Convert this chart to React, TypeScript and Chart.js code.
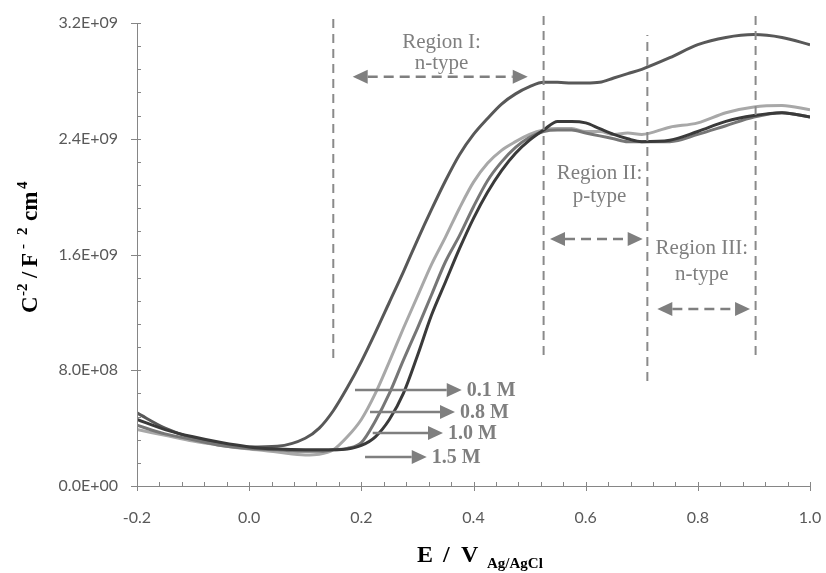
import React, { useEffect, useRef } from "react";
import { Chart, registerables } from "chart.js";

Chart.register(...registerables);

// ---------- data ----------
const potentials = [
  -0.2, -0.15, -0.1, -0.05, 0, 0.05, 0.1, 0.125, 0.15, 0.175, 0.2, 0.225, 0.25,
  0.275, 0.3, 0.325, 0.35, 0.375, 0.4, 0.425, 0.45, 0.475, 0.5, 0.525, 0.55,
  0.575, 0.6, 0.625, 0.65, 0.675, 0.7, 0.75, 0.8, 0.85, 0.9, 0.95, 1.0,
];
// values in units of 1e8 F^-2 cm^4
const conc01M = [
  5.05, 4.0, 3.3, 2.9, 2.7, 2.75, 3.3, 4.0, 5.2, 6.8, 8.6, 10.6, 12.7, 14.8,
  17.0, 19.1, 21.1, 22.9, 24.3, 25.4, 26.4, 27.1, 27.6, 27.9, 27.9, 27.85,
  27.85, 27.9, 28.2, 28.5, 28.8, 29.6, 30.5, 31.0, 31.2, 31.0, 30.5,
];
const conc08M = [
  3.9, 3.5, 3.1, 2.8, 2.55, 2.35, 2.15, 2.2, 2.5, 3.4, 4.6, 6.4, 8.6, 10.9,
  13.1, 15.3, 17.2, 19.2, 21.0, 22.3, 23.2, 23.8, 24.3, 24.6, 24.7, 24.7, 24.5,
  24.5, 24.3, 24.4, 24.3, 24.8, 25.1, 25.8, 26.2, 26.3, 26.0,
];
const conc10M = [
  4.2, 3.6, 3.2, 2.8, 2.6, 2.5, 2.4, 2.4, 2.5, 2.6, 3.0, 4.5, 6.4, 8.7, 10.9,
  13.2, 15.5, 17.3, 19.3, 21.1, 22.4, 23.4, 24.1, 24.5, 24.6, 24.6, 24.4, 24.2,
  24.0, 23.8, 23.8, 23.8, 24.3, 24.9, 25.5, 25.8, 25.5,
];
const conc15M = [
  4.6, 3.9, 3.4, 3.0, 2.7, 2.55, 2.5, 2.5, 2.5, 2.55, 2.8, 3.4, 4.6, 6.4, 9.0,
  11.8, 14.1, 16.4, 18.5, 20.3, 21.8, 23.0, 23.9, 24.6, 25.2, 25.2, 25.1, 24.7,
  24.3, 24.0, 23.8, 23.9, 24.5, 25.2, 25.6, 25.8, 25.5,
];
const seriesLabels = ["0.1 M", "0.8 M", "1.0 M", "1.5 M"];
const seriesColors = ["#585858", "#a8a8a8", "#767676", "#3a3a3a"];

// region dividers (dashed vertical lines)
const dividerX = [0.15, 0.525, 0.71, 0.903];
const dividerTop = [3.269e9, 3.29e9, 3.117e9, 3.29e9];
const dividerBottom = [8.85e8, 9.05e8, 7.26e8, 9.05e8];

// region annotations
const regionNames = ["Region I:", "Region II:", "Region III:"];
const regionTypes = ["n-type", "p-type", "n-type"];
const regionTextX = [0.343, 0.6247, 0.807];
const regionNameY = [3.062e9, 2.163e9, 1.645e9];
const regionTypeY = [2.917e9, 2.004e9, 1.465e9];
const regionArrowFrom = [0.1846, 0.5364, 0.7278];
const regionArrowTo = [0.4967, 0.7017, 0.8931];
const regionArrowY = [2.829e9, 1.707e9, 1.223e9];

// concentration pointers
const pointerFrom = [0.1887, 0.2155, 0.2203, 0.2066];
const pointerTo = [0.379, 0.367, 0.3456, 0.3166];
const pointerY = [6.63e8, 5.11e8, 3.66e8, 2.0e8];

// axes
const xMin = -0.2;
const xMax = 1.0;
const xStep = 0.2;
const xMinorStep = 0.04;
const yMin = 0;
const yMax = 3.2e9;
const yStep = 8e8;
const yMinorStep = 1.6e8;

// ---------- helpers ----------
function sciLabel(v: number): string {
  if (Math.abs(v) < 1) return "0.0E+00";
  const [m, e] = v.toExponential(1).split("e");
  const n = parseInt(e, 10);
  const exp = String(Math.abs(n)).padStart(2, "0");
  return m + "E" + (n < 0 ? "-" : "+") + exp;
}

const ANN_COLOR = "#7f7f7f";
const AXIS_COLOR = "#868686";

function drawArrow(
  ctx: CanvasRenderingContext2D,
  x1: number,
  x2: number,
  y: number,
  both: boolean,
  dashed: boolean
) {
  const hl = 15;
  const hw = 7;
  ctx.save();
  ctx.strokeStyle = ANN_COLOR;
  ctx.fillStyle = ANN_COLOR;
  ctx.lineWidth = 2.5;
  ctx.setLineDash(dashed ? [10, 6] : []);
  ctx.beginPath();
  ctx.moveTo(both ? x1 + hl : x1, y);
  ctx.lineTo(x2 - hl, y);
  ctx.stroke();
  ctx.setLineDash([]);
  ctx.beginPath();
  ctx.moveTo(x2, y);
  ctx.lineTo(x2 - hl, y - hw);
  ctx.lineTo(x2 - hl, y + hw);
  ctx.closePath();
  ctx.fill();
  if (both) {
    ctx.beginPath();
    ctx.moveTo(x1, y);
    ctx.lineTo(x1 + hl, y - hw);
    ctx.lineTo(x1 + hl, y + hw);
    ctx.closePath();
    ctx.fill();
  }
  ctx.restore();
}

const decorPlugin = {
  id: "decor",
  afterDatasetsDraw(chart: any) {
    const ctx: CanvasRenderingContext2D = chart.ctx;
    const xs = chart.scales.x;
    const ys = chart.scales.y;
    ctx.save();
    // region arrows and texts
    ctx.fillStyle = ANN_COLOR;
    ctx.textAlign = "center";
    ctx.textBaseline = "middle";
    ctx.font = '21px "Liberation Serif"';
    for (let i = 0; i < regionNames.length; i++) {
      const tx = xs.getPixelForValue(regionTextX[i]);
      ctx.fillText(regionNames[i], tx, ys.getPixelForValue(regionNameY[i]));
      ctx.fillText(regionTypes[i], tx, ys.getPixelForValue(regionTypeY[i]));
      drawArrow(
        ctx,
        xs.getPixelForValue(regionArrowFrom[i]),
        xs.getPixelForValue(regionArrowTo[i]),
        ys.getPixelForValue(regionArrowY[i]),
        true,
        true
      );
    }
    // concentration pointers
    ctx.font = 'bold 20px "Liberation Serif"';
    ctx.textAlign = "left";
    ctx.fillStyle = ANN_COLOR;
    for (let i = 0; i < seriesLabels.length; i++) {
      const x2 = xs.getPixelForValue(pointerTo[i]);
      const y = ys.getPixelForValue(pointerY[i]);
      drawArrow(ctx, xs.getPixelForValue(pointerFrom[i]), x2, y, false, false);
      ctx.fillText(seriesLabels[i], x2 + 5, y + 1);
    }
    ctx.restore();
  },
  afterDraw(chart: any) {
    const ctx: CanvasRenderingContext2D = chart.ctx;
    const xs = chart.scales.x;
    const ys = chart.scales.y;
    const area = chart.chartArea;
    ctx.save();
    ctx.strokeStyle = AXIS_COLOR;
    ctx.lineWidth = 1;
    // axis lines
    ctx.beginPath();
    ctx.moveTo(area.left + 0.5, area.top);
    ctx.lineTo(area.left + 0.5, area.bottom + 0.5);
    ctx.lineTo(area.right, area.bottom + 0.5);
    ctx.stroke();
    // x ticks
    const nX = Math.round((xMax - xMin) / xMinorStep);
    const perMajorX = Math.round(xStep / xMinorStep);
    for (let i = 0; i <= nX; i++) {
      const px = Math.round(xs.getPixelForValue(xMin + i * xMinorStep)) + 0.5;
      const major = i % perMajorX === 0;
      ctx.beginPath();
      ctx.moveTo(px, area.bottom - 4);
      ctx.lineTo(px, area.bottom + (major ? 5 : 0.5));
      ctx.stroke();
    }
    // y ticks
    const nY = Math.round((yMax - yMin) / yMinorStep);
    const perMajorY = Math.round(yStep / yMinorStep);
    for (let i = 0; i <= nY; i++) {
      const py = Math.round(ys.getPixelForValue(yMin + i * yMinorStep)) + 0.5;
      const major = i % perMajorY === 0;
      ctx.beginPath();
      ctx.moveTo(area.left - (major ? 6 : 0), py);
      ctx.lineTo(area.left + 4, py);
      ctx.stroke();
    }
    // x title: E / V_Ag/AgCl
    ctx.fillStyle = "#000";
    ctx.textBaseline = "alphabetic";
    ctx.textAlign = "left";
    ctx.font = 'bold 24px "Liberation Serif"';
    ctx.fillText("E", 417, 562);
    ctx.fillText("/", 443, 562);
    ctx.fillText("V", 461, 562);
    ctx.font = 'bold 15px "Liberation Serif"';
    ctx.fillText("Ag/AgCl", 487, 568);
    // y title: C^-2 /F^- 2 cm^4 (offsets along the rotated baseline)
    const pieces: [string, number, boolean][] = [
      ["C", 0, false],
      ["-2", 17, true],
      ["/", 35, false],
      ["F", 46, false],
      ["-", 64, true],
      ["2", 78, true],
      ["cm", 92, false],
      ["4", 124, true],
    ];
    ctx.translate(37, 313);
    ctx.rotate(-Math.PI / 2);
    for (const [t, off, sup] of pieces) {
      ctx.font = sup
        ? 'bold 15px "Liberation Serif"'
        : 'bold 23px "Liberation Serif"';
      ctx.fillText(t, off, sup ? -10 : 0);
    }
    ctx.restore();
  },
};

function toPoints(vals: number[]) {
  return potentials.map((x, i) => ({ x, y: vals[i] * 1e8 }));
}

export default function App() {
  const canvasRef = useRef<HTMLCanvasElement | null>(null);

  useEffect(() => {
    const canvas = canvasRef.current;
    if (!canvas) return;
    const series = [conc01M, conc08M, conc10M, conc15M];
    const dividerSets = dividerX.map((x, i) => ({
      label: "divider" + i,
      data: [
        { x, y: dividerBottom[i] },
        { x, y: dividerTop[i] },
      ],
      borderColor: "#8a8a8a",
      borderWidth: 2,
      borderDash: [9, 6],
      pointRadius: 0,
      tension: 0,
      clip: false as any,
      order: 0,
    }));
    const curveOrder = [4, 3, 2, 1];
    const curveSets = series.map((vals, i) => ({
      label: seriesLabels[i],
      data: toPoints(vals),
      borderColor: seriesColors[i],
      borderWidth: 3,
      pointRadius: 0,
      cubicInterpolationMode: "monotone" as const,
      order: curveOrder[i],
    }));

    const chart = new Chart(canvas, {
      type: "line",
      data: { datasets: [...dividerSets, ...curveSets] as any },
      options: {
        animation: false,
        responsive: false,
        devicePixelRatio: 1,
        layout: { padding: { top: 23, right: 0, left: 0, bottom: 0 } },
        plugins: {
          legend: { display: false },
          tooltip: { enabled: false },
        },
        scales: {
          x: {
            type: "linear",
            min: xMin,
            max: xMax,
            grid: { display: false, drawTicks: false },
            border: { display: false },
            ticks: {
              stepSize: xStep,
              padding: 22,
              color: "#595959",
              font: { family: "Lato", size: 16 },
              callback: (v: any) =>
                Math.abs(Number(v)) < 1e-9 ? "0.0" : Number(v).toFixed(1),
            },
            afterFit: (scale: any) => {
              scale.height = 87;
              scale.paddingRight = 16;
              scale.paddingLeft = 0;
            },
          },
          y: {
            type: "linear",
            min: yMin,
            max: yMax,
            grid: { display: false, drawTicks: false },
            border: { display: false },
            ticks: {
              stepSize: yStep,
              padding: 19,
              color: "#595959",
              font: { family: "Lato", size: 16 },
              callback: (v: any) => sciLabel(Number(v)),
            },
            afterFit: (scale: any) => {
              scale.width = 137;
              scale.paddingTop = 0;
              scale.paddingBottom = 0;
            },
          },
        },
      },
      plugins: [decorPlugin],
    });
    return () => chart.destroy();
  }, []);

  return (
    <div
      style={{
        position: "absolute",
        left: 0,
        top: 0,
        width: 826,
        height: 573,
        background: "#fff",
      }}
    >
      <canvas ref={canvasRef} width={826} height={573} />
    </div>
  );
}
